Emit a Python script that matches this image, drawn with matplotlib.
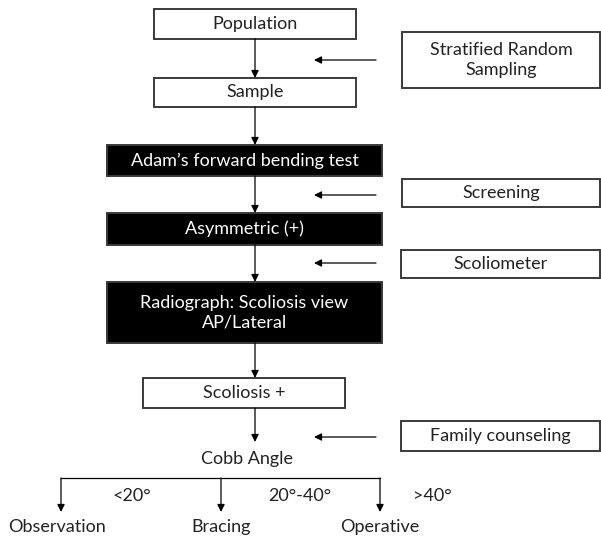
import matplotlib.pyplot as plt
from matplotlib.patches import Rectangle

plt.rcParams['font.family'] = ['Lato', 'DejaVu Sans']

# flow steps (main column)
main_labels = ['Population', 'Sample', "Adam\u2019s forward bending test",
               'Asymmetric (+)', 'Radiograph: Scoliosis view\nAP/Lateral',
               'Scoliosis +']
main_dark = [False, False, True, True, True, False]
# side notes
side_labels = ['Stratified Random\nSampling', 'Screening', 'Scoliometer',
               'Family counseling']
# outcome branches
branch_ranges = ['<20\u00b0', '20\u00b0-40\u00b0', '>40\u00b0']
branch_labels = ['Observation', 'Bracing', 'Operative']

# layout in pixels (x0, x1, y0, y1)
main_boxes = [(154, 356, 9, 39), (154, 356, 78, 107), (107, 382, 145, 176),
              (107, 382, 213, 245), (107, 382, 282, 343), (143, 345, 378, 408)]
side_boxes = [(402, 600, 32, 88), (402, 600, 179, 207), (401, 600, 250, 278),
              (401, 600, 421, 451)]
side_arrow_y = [60, 195, 263, 437]
cx = 255
branch_x = [61, 221, 380]
range_x = [132, 300, 432]

fig = plt.figure(figsize=(6.01, 5.38), dpi=100)
ax = fig.add_axes([0, 0, 1, 1])
ax.set_xlim(0, 601)
ax.set_ylim(538, 0)
ax.axis('off')

fs = 13
edge = '#3a3a3a'
tc = '#222222'

def arrow(x0, y0, x1, y1):
    ax.annotate('', xy=(x1, y1), xytext=(x0, y0),
                arrowprops=dict(arrowstyle='-|>', color='black', lw=0.9,
                                mutation_scale=11, shrinkA=0, shrinkB=0))

for (x0, x1, y0, y1), lab, dark in zip(main_boxes, main_labels, main_dark):
    ax.add_patch(Rectangle((x0, y0), x1 - x0, y1 - y0,
                           facecolor='black' if dark else 'white',
                           edgecolor=edge, lw=1.4))
    ax.text((x0 + x1) / 2, (y0 + y1) / 2, lab, ha='center', va='center',
            fontsize=fs, color='white' if dark else tc, linespacing=1.3)

for (x0, x1, y0, y1), lab in zip(side_boxes, side_labels):
    ax.add_patch(Rectangle((x0, y0), x1 - x0, y1 - y0, facecolor='white',
                           edgecolor=edge, lw=1.4))
    ax.text((x0 + x1) / 2, (y0 + y1) / 2, lab, ha='center', va='center',
            fontsize=fs, color=tc, linespacing=1.3)

for y in side_arrow_y:
    arrow(376, y, 314, y)

# vertical connectors
for a, b in zip(main_boxes[:-1], main_boxes[1:]):
    arrow(cx, a[3], cx, b[2])
arrow(cx, main_boxes[-1][3], cx, 442)

ax.text(cx - 8, 459, 'Cobb Angle', ha='center', va='center', fontsize=fs,
        color=tc)

# branches
ax.plot([branch_x[0], branch_x[-1]], [478, 478], color='black', lw=0.9)
for bx, lab in zip(branch_x, branch_labels):
    arrow(bx, 478, bx, 512)
    ax.text(bx - 4 if lab == 'Observation' else bx, 527, lab, ha='center',
            va='center', fontsize=fs, color=tc)
for rx, lab in zip(range_x, branch_ranges):
    ax.text(rx, 496, lab, ha='center', va='center', fontsize=fs, color=tc)

fig.savefig('out.png', dpi=100)
